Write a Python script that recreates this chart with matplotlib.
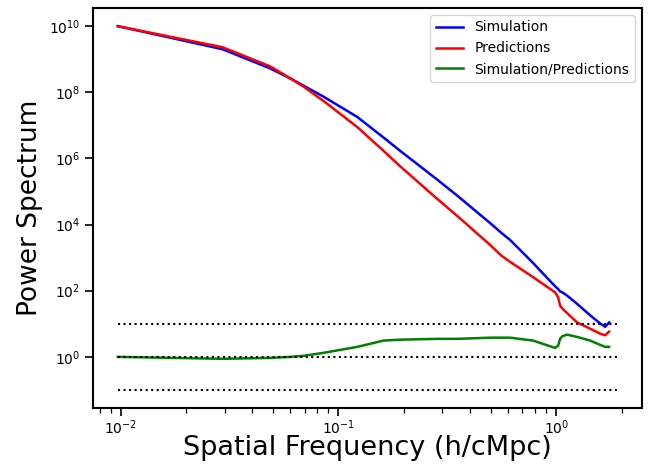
import matplotlib
matplotlib.use("Agg")
import matplotlib.pyplot as plt
import numpy as np

# spatial frequency (h/cMpc)
k = [0.0097, 0.0294, 0.0488, 0.0603, 0.0690, 0.0853, 0.122, 0.161, 0.192,
     0.284, 0.352, 0.498, 0.560, 0.615, 0.783, 0.989, 1.021, 1.042, 1.067, 1.122,
     1.247, 1.432, 1.592, 1.679, 1.750]

# power spectra
p_sim = [1.0e10, 2.0e9, 5.2e8, 2.6e8, 1.6e8, 7.4e7, 1.8e7, 4.3e6, 1.7e6,
         2.3e5, 7.4e4, 1.1e4, 5.6e3, 3.4e3, 690, 135, 112, 95, 89, 71,
         40, 18, 10.2, 8.1, 11]
p_pred = [1.0e10, 2.3e9, 6.0e8, 2.6e8, 1.5e8, 5.5e7, 8.9e6, 1.7e6, 5.8e5,
          6.0e4, 1.8e4, 2.4e3, 1.15e3, 740, 257, 89, 63, 35, 29, 21,
          11, 7.1, 5.0, 4.5, 5.8]
ratio = [1.0, 0.87, 0.93, 1.0, 1.07, 1.32, 2.0, 3.1, 3.3,
         3.5, 3.5, 3.8, 3.8, 3.8, 3.1, 1.86, 2.2, 3.5, 4.2, 4.7,
         4.0, 3.1, 2.3, 2.0, 2.0]

# reference levels
ref_levels = [10.0, 1.0, 0.1]
ref_range = [0.0097, 1.9]
y_ticks = [1e0, 1e2, 1e4, 1e6, 1e8, 1e10]

fig = plt.figure(figsize=(6.49, 4.68), dpi=100)
ax = fig.add_axes([0.143, 0.128, 0.846, 0.855])

ax.loglog(k, p_sim, color="blue", lw=1.8, label="Simulation")
ax.loglog(k, p_pred, color="red", lw=1.8, label="Predictions")
ax.loglog(k, ratio, color="green", lw=1.8, label="Simulation/Predictions")
for lvl in ref_levels:
    ax.plot(ref_range, [lvl, lvl], "k:", lw=1.5)

ylim = ax.get_ylim()
ax.set_yticks(y_ticks)
ax.yaxis.set_minor_locator(plt.NullLocator())
ax.set_ylim(ylim)

ax.tick_params(which="major", length=5.5, width=1.2)
ax.tick_params(which="minor", length=3.5, width=0.9)
ax.tick_params(axis="x", which="major", pad=2)
ax.set_xlabel("Spatial Frequency (h/cMpc)", fontsize=19.5)
ax.xaxis.set_label_coords(0.5, -0.066)
ax.set_ylabel("Power Spectrum", fontsize=19)
ax.legend(loc="upper right")
for s in ax.spines.values():
    s.set_linewidth(1.5)

fig.savefig("out.png", dpi=100)
